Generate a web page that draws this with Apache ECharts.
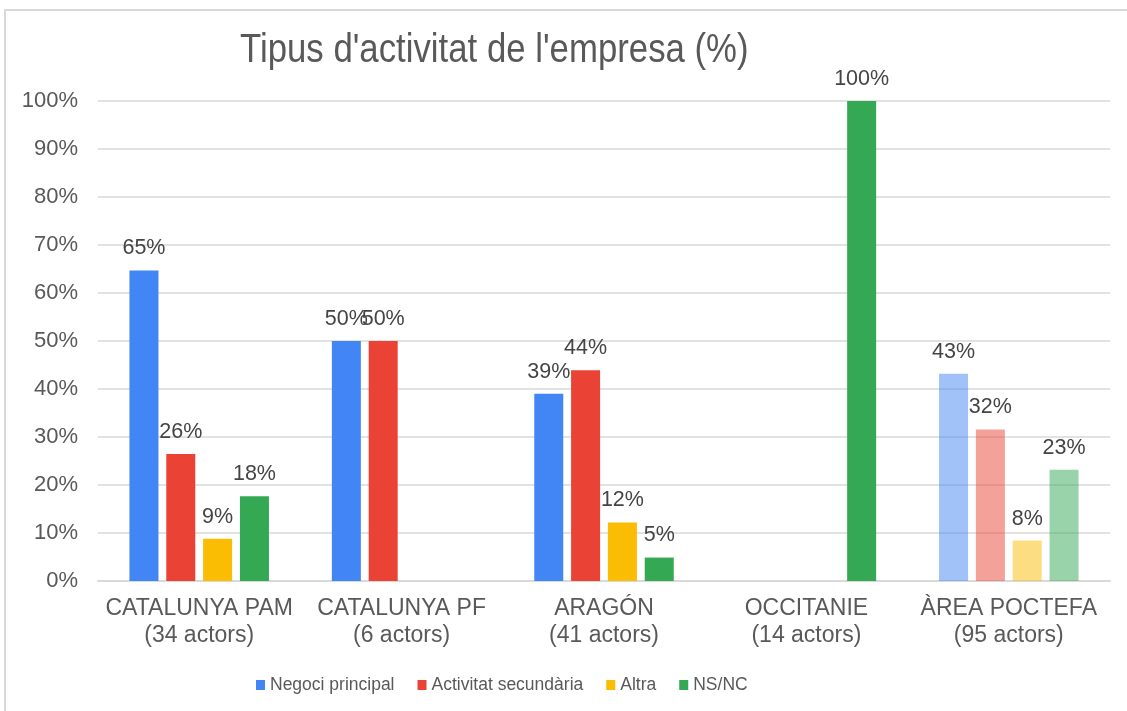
<!DOCTYPE html>
<html>
<head>
<meta charset="utf-8">
<script src="https://cdn.jsdelivr.net/npm/echarts@6/dist/echarts.min.js"></script>
<style>html,body{margin:0;padding:0;background:#fff}#c{width:1127px;height:711px}</style>
</head>
<body>
<div id="c"></div>
<script>
const titleText = "Tipus d'activitat de l'empresa (%)";
const categories = ['CATALUNYA PAM\n(34 actors)', 'CATALUNYA PF\n(6 actors)', 'ARAGÓN\n(41 actors)', 'OCCITANIE\n(14 actors)', 'ÀREA POCTEFA\n(95 actors)'];
const seriesNames = ['Negoci principal', 'Activitat secundària', 'Altra', 'NS/NC'];
const negociPrincipal = [64.71, 50, 39.02, null, 43.16];
const activitatSecundaria = [26.47, 50, 43.90, null, 31.58];
const altra = [8.82, null, 12.20, null, 8.42];
const nsnc = [17.65, null, 4.88, 100, 23.16];
const yTicks = [0, 10, 20, 30, 40, 50, 60, 70, 80, 90, 100];
const colors = ['#4285F4', '#EA4335', '#FBBC04', '#34A853'];

const allValues = [negociPrincipal, activitatSecundaria, altra, nsnc];
const FONT = '"Liberation Sans", Arial, sans-serif';

function fade(hex, a) {
  const n = parseInt(hex.slice(1), 16);
  return 'rgba(' + (n >> 16 & 255) + ',' + (n >> 8 & 255) + ',' + (n & 255) + ',' + a + ')';
}

const series = allValues.map((vals, si) => ({
  name: seriesNames[si],
  type: 'bar',
  barWidth: 29,
  barGap: '27%',
  itemStyle: { color: colors[si] },
  label: {
    show: true, position: 'top', distance: 11,
    fontFamily: FONT, fontSize: 21.5, color: '#444',
    formatter: p => p.value == null ? '' : Math.round(p.value) + '%'
  },
  data: vals.map((v, ci) => ci === categories.length - 1
    ? { value: v, itemStyle: { color: fade(colors[si], 0.5) } }
    : v)
}));

const chart = echarts.init(document.getElementById('c'), null, { renderer: 'canvas' });
chart.setOption({
  animation: false,
  backgroundColor: '#fff',
  graphic: [{
    type: 'rect', shape: { x: 5, y: 10, width: 1200, height: 800 },
    style: { fill: 'none', stroke: '#d9d9d9', lineWidth: 2 }, silent: true, z: -10
  }, {
    type: 'text', x: 240, y: 51, scaleX: 0.848, silent: true,
    style: {
      text: titleText, fontFamily: FONT, fontSize: 41, fill: '#595959',
      textAlign: 'left', textVerticalAlign: 'middle'
    }
  }],
  legend: {
    data: seriesNames,
    left: 251, top: 671,
    itemWidth: 9, itemHeight: 10, itemGap: 23,
    icon: 'rect',
    textStyle: { fontFamily: FONT, fontSize: 17.5, color: '#595959', padding: [0, 0, 0, 0] }
  },
  grid: { left: 98, right: 17, top: 101, bottom: 130, containLabel: false },
  xAxis: {
    type: 'category', data: categories,
    axisLine: { lineStyle: { color: '#d9d9d9', width: 2 } },
    axisTick: { show: false },
    axisLabel: { fontFamily: FONT, fontSize: 23, color: '#595959', lineHeight: 27, margin: 14, interval: 0 }
  },
  yAxis: {
    type: 'value', min: yTicks[0], max: yTicks[yTicks.length - 1], interval: 10,
    axisLine: { show: false }, axisTick: { show: false },
    splitLine: { lineStyle: { color: '#d9d9d9', width: 1.5 } },
    axisLabel: { fontFamily: FONT, fontSize: 22, color: '#595959', margin: 20, formatter: v => v + '%' }
  },
  series: series
});
</script>
</body>
</html>
